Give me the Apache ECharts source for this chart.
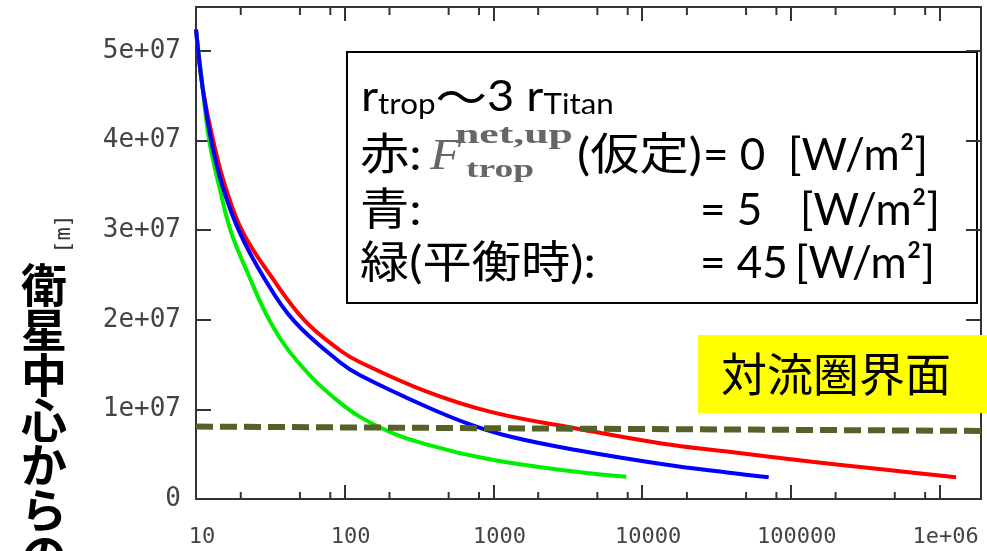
<!DOCTYPE html>
<html>
<head>
<meta charset="utf-8">
<script src="https://cdn.jsdelivr.net/npm/echarts@6/dist/echarts.min.js"></script>
<style>
  html, body { margin: 0; padding: 0; background: #fff; }
  #chart { width: 987px; height: 551px; }
</style>
</head>
<body>
<div id="chart"></div>
<script>
// Distance from the satellite centre (m) against the log-scaled x quantity.
const redX   = [10, 11.08, 13.09, 15.78, 20.6, 32.3, 53.9, 92.9, 126.8, 349, 959, 3597, 13500, 37200, 139000, 393000, 1290000];
const redR   = [5.24e7, 4.59e7, 3.99e7, 3.48e7, 2.98e7, 2.475e7, 1.99e7, 1.66e7, 1.526e7, 1.203e7, 9.72e6, 7.87e6, 6.2e6, 5.29e6, 4.15e6, 3.34e6, 2.42e6];

const blueX  = [10, 11.08, 12.69, 15.13, 19.6, 28.5, 45.4, 92.9, 126.8, 349, 703, 1309, 3597, 13500, 37200, 71000];
const blueR  = [5.24e7, 4.59e7, 3.99e7, 3.48e7, 2.98e7, 2.475e7, 1.99e7, 1.526e7, 1.381e7, 1.035e7, 8.3e6, 6.94e6, 5.46e6, 3.9e6, 2.95e6, 2.42e6];

const greenX = [10, 11.08, 12.3, 14.36, 17.2, 22.9, 31.3, 47.4, 92.9, 173, 349, 959, 3597, 7830];
const greenR = [5.24e7, 4.59e7, 3.99e7, 3.48e7, 2.98e7, 2.475e7, 1.99e7, 1.548e7, 1.075e7, 7.98e6, 6.12e6, 4.4e6, 3.04e6, 2.48e6];

// Tropopause radius (dashed reference line)
const tropX  = [10, 1.9e6];
const tropR  = [8.08e6, 7.6e6];

// Axis ticks and labels
const xTickValues = [10, 100, 1000, 10000, 100000, 1000000];
const xTickLabels = ['10', '100', '1000', '10000', '100000', '1e+06'];
const yTickValues = [0, 1e7, 2e7, 3e7, 4e7, 5e7];
const yTickLabels = ['0', '1e+07', '2e+07', '3e+07', '4e+07', '5e+07'];
const xMinorTicks = [20, 50, 80, 200, 500, 800, 2000, 5000, 8000, 20000, 50000, 80000, 200000, 500000, 800000];

const X_MIN = 10, X_MAX = 1.9e6, Y_MIN = 0, Y_MAX = 5.49e7;

const zip = (xs, ys) => xs.map((x, i) => [x, ys[i]]);
const pickLabel = (vals, labels, v) => {
  for (let i = 0; i < vals.length; i++) {
    if (Math.abs(v - vals[i]) <= Math.abs(vals[i]) * 1e-6 + 1e-9) return labels[i];
  }
  return '';
};

const frame = { show: true, onZero: false, lineStyle: { color: '#333', width: 2 } };
const tickFont = '"DejaVu Sans Mono", monospace';
const jp = 'Lato, "Noto Sans CJK JP", sans-serif';
const jpOnly = '"Noto Sans CJK JP", sans-serif';
const serif = '"Liberation Serif", "DejaVu Serif", serif';

const chart = echarts.init(document.getElementById('chart'), null, { renderer: 'canvas' });

// one run of legend text, left-aligned and vertically centred at (x, y)
const legendText = (text, x, y, sx) => ({
  type: 'text', x: x, y: y, scaleX: sx || 1, z: 20,
  style: {
    text: text, fontSize: 44, fontFamily: jp, fill: '#000',
    align: 'left', verticalAlign: 'middle'
  }
});
const mathText = (text, x, y, size, sx, extra) => ({
  type: 'text', x: x, y: y, scaleX: sx, z: 20,
  style: Object.assign({
    text: text, fontSize: size, fontFamily: serif, fill: '#666',
    align: 'left', verticalAlign: 'middle'
  }, extra || {})
});

const CJK_SX = 1.12;
const tickStyle = { color: '#333', width: 2 };
const SMOOTH = 0.4;

const option = {
  backgroundColor: '#fff',
  animation: false,
  grid: { left: 196, right: 6, top: 7, bottom: 52, containLabel: false },
  xAxis: [
    {
      type: 'log', logBase: 10, min: X_MIN, max: X_MAX, position: 'bottom',
      axisLine: frame,
      axisTick: { show: true, inside: true, length: 14, lineStyle: tickStyle },
      axisLabel: {
        show: true, margin: 27, color: '#444', fontSize: 22, fontFamily: tickFont,
        padding: [0, 0, 0, 12], showMaxLabel: false,
        formatter: v => pickLabel(xTickValues, xTickLabels, v)
      },
      splitLine: { show: false }
    },
    {
      type: 'log', logBase: 10, min: X_MIN, max: X_MAX, position: 'top',
      axisLine: frame,
      axisTick: { show: true, inside: true, length: 14, lineStyle: tickStyle },
      axisLabel: { show: false },
      splitLine: { show: false }
    }
  ],
  yAxis: [
    {
      type: 'value', min: Y_MIN, max: Y_MAX, interval: 1e7, position: 'left',
      axisLine: frame,
      axisTick: { show: true, inside: true, length: 15, lineStyle: tickStyle },
      axisLabel: {
        show: true, margin: 15, color: '#444', fontSize: 26, fontFamily: tickFont,
        showMaxLabel: false,
        formatter: v => pickLabel(yTickValues, yTickLabels, v)
      },
      splitLine: { show: false }
    },
    {
      type: 'value', min: Y_MIN, max: Y_MAX, interval: 1e7, position: 'right',
      axisLine: frame,
      axisTick: { show: true, inside: true, length: 15, lineStyle: tickStyle },
      axisLabel: { show: false },
      splitLine: { show: false }
    }
  ],
  series: [
    {
      name: 'minor ticks', type: 'custom', xAxisIndex: 0, yAxisIndex: 0,
      data: xMinorTicks.map(v => [v, 0]), clip: false, silent: true, z: 5,
      renderItem: (params, api) => {
        const v = api.value(0);
        const b = api.coord([v, Y_MIN]);
        const t = api.coord([v, Y_MAX]);
        const style = { stroke: '#333', lineWidth: 2 };
        return {
          type: 'group',
          children: [
            { type: 'line', shape: { x1: b[0], y1: b[1], x2: b[0], y2: b[1] - 7 }, style: style },
            { type: 'line', shape: { x1: t[0], y1: t[1], x2: t[0], y2: t[1] + 8 }, style: style }
          ]
        };
      }
    },
    {
      name: '赤', type: 'line', data: zip(redX, redR), showSymbol: false, smooth: SMOOTH,
      lineStyle: { color: '#ff0000', width: 4 }, z: 3
    },
    {
      name: '緑', type: 'line', data: zip(greenX, greenR), showSymbol: false, smooth: SMOOTH,
      lineStyle: { color: '#00ee00', width: 4 }, z: 3
    },
    {
      name: '青', type: 'line', data: zip(blueX, blueR), showSymbol: false, smooth: SMOOTH,
      lineStyle: { color: '#0000ff', width: 4 }, z: 4
    },
    {
      name: '対流圏界面', type: 'line', data: zip(tropX, tropR), showSymbol: false,
      lineStyle: { color: '#556128', width: 6, type: [17, 7], cap: 'butt' }, z: 6
    }
  ],
  graphic: [
    // legend panel
    {
      type: 'rect', z: -1,
      shape: { x: 347, y: 52, width: 630, height: 251 },
      style: { fill: '#fff', stroke: '#000', lineWidth: 2 }
    },
    {
      type: 'text', x: 361, y: 97, scaleX: 1.12, z: 20,
      style: {
        text: 'r{sub|trop}{tl|〜}3 r{sub|Titan}',
        fontSize: 42, fontFamily: jp, fill: '#000', lineHeight: 44,
        align: 'left', verticalAlign: 'middle',
        rich: {
          sub: { fontSize: 28, fontFamily: jp, fill: '#000', lineHeight: 22, verticalAlign: 'bottom' },
          tl: { fontSize: 46, fontFamily: jpOnly, fill: '#000', lineHeight: 44 }
        }
      }
    },
    legendText('赤:', 360, 156, CJK_SX),
    mathText('F', 430, 157, 44, 1.15, { fontStyle: 'italic' }),
    mathText('net,up', 455, 136, 27, 1.62, { fontWeight: 'bold' }),
    mathText('trop', 466, 171, 25, 1.5, { fontWeight: 'bold' }),
    legendText('(仮定)', 577, 156, CJK_SX),
    legendText('= 0', 703, 156),
    legendText('[W/m²]', 788, 156),
    legendText('青:', 360, 211, CJK_SX),
    legendText('= 5', 700, 211),
    legendText('[W/m²]', 800, 211),
    legendText('緑(平衡時):', 360, 264, CJK_SX),
    legendText('= 45', 700, 264),
    legendText('[W/m²]', 795, 264),
    // tropopause tag
    {
      type: 'rect', z: 30,
      shape: { x: 698, y: 335, width: 289, height: 78 },
      style: { fill: '#ffff00', stroke: null }
    },
    {
      type: 'text', x: 836, y: 374, z: 31,
      style: { text: '対流圏界面', fontSize: 46, fontFamily: jpOnly, fill: '#000', align: 'center', verticalAlign: 'middle' }
    },
    // y-axis title
    {
      type: 'text', x: 64, y: 234, rotation: Math.PI / 2, z: 20,
      style: { text: '[m]', fontSize: 22, fontFamily: tickFont, fill: '#333', align: 'center', verticalAlign: 'middle' }
    },
    {
      type: 'text', x: 44, y: 262, z: 20,
      style: {
        text: '衛\n星\n中\n心\nか\nら\nの\n距\n離',
        fontSize: 46, fontWeight: 'bold', fontFamily: jpOnly, fill: '#000',
        lineHeight: 45, align: 'center', verticalAlign: 'top'
      }
    }
  ]
};

chart.setOption(option);
</script>
</body>
</html>
